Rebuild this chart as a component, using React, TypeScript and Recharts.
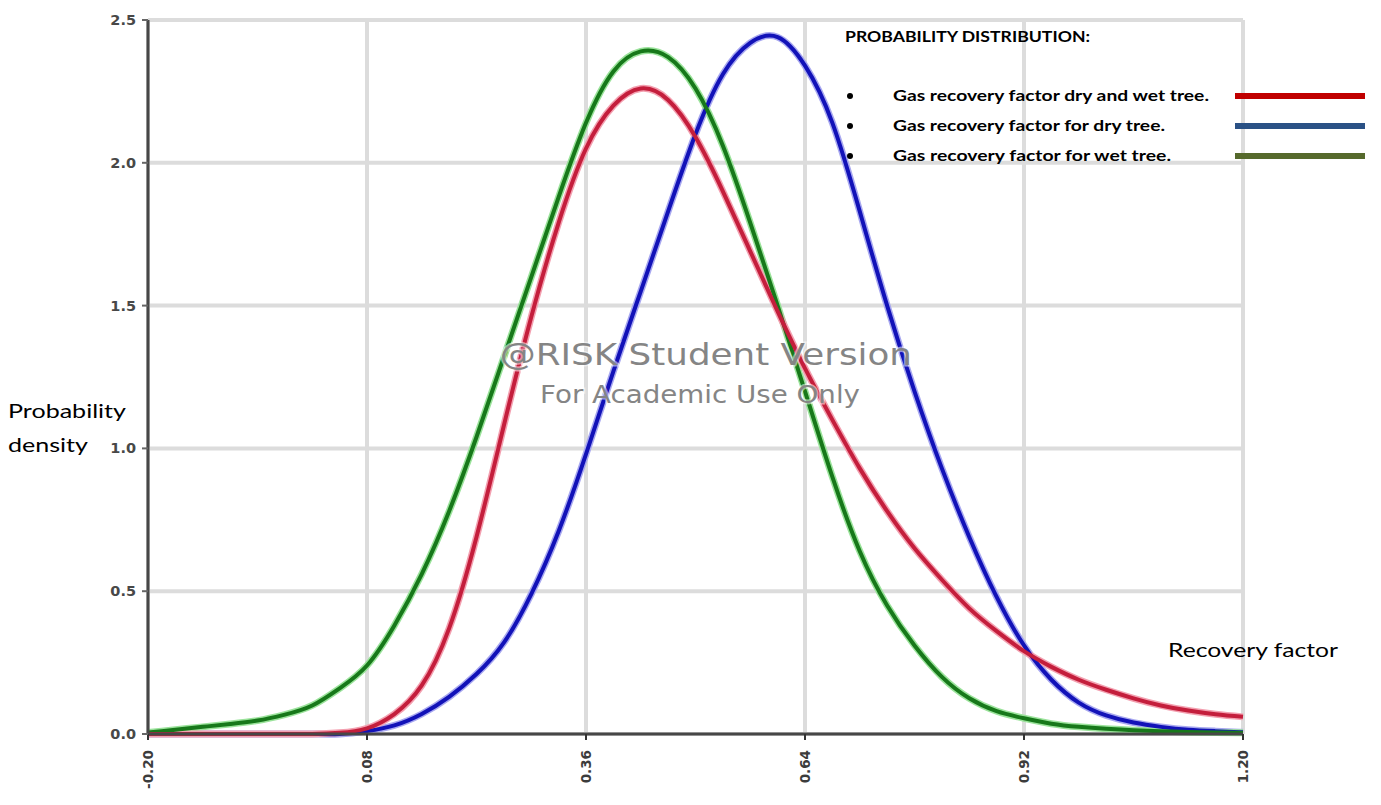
import { LineChart, Line, XAxis, YAxis, CartesianGrid } from 'recharts';

// recovery factor sample points (x axis)
const recoveryFactor = [
  -0.2, -0.165, -0.13, -0.095, -0.06, -0.025, 0.01, 0.045, 0.08, 0.115,
  0.15, 0.185, 0.22, 0.255, 0.29, 0.325, 0.36, 0.395, 0.43, 0.465,
  0.5, 0.535, 0.57, 0.605, 0.64, 0.675, 0.71, 0.745, 0.78, 0.815,
  0.85, 0.885, 0.92, 0.955, 0.99, 1.025, 1.06, 1.095, 1.13, 1.165, 1.2,
];

// gas recovery factor, dry and wet tree
const dryAndWetTree = [
  0, 0, 0, 0, 0, 0, 0, 0.004, 0.02, 0.07,
  0.17, 0.37, 0.69, 1.08, 1.46, 1.79, 2.05, 2.2, 2.26, 2.22,
  2.09, 1.9, 1.69, 1.48, 1.28, 1.1, 0.93, 0.78, 0.65, 0.54,
  0.44, 0.36, 0.29, 0.235, 0.19, 0.155, 0.125, 0.1, 0.082, 0.069, 0.06,
];

// gas recovery factor, dry tree
const dryTree = [
  0, 0, 0, 0, 0, 0, 0, 0, 0.01, 0.03,
  0.07, 0.13, 0.21, 0.32, 0.49, 0.71, 0.98, 1.27, 1.55, 1.83,
  2.1, 2.31, 2.42, 2.44, 2.34, 2.14, 1.83, 1.5, 1.2, 0.93,
  0.69, 0.48, 0.31, 0.19, 0.11, 0.065, 0.04, 0.025, 0.015, 0.01, 0.006,
];

// gas recovery factor, wet tree
const wetTree = [
  0.005, 0.015, 0.025, 0.035, 0.047, 0.068, 0.1, 0.16, 0.24, 0.38,
  0.56, 0.78, 1.04, 1.32, 1.6, 1.88, 2.14, 2.32, 2.39, 2.37,
  2.26, 2.06, 1.79, 1.5, 1.2, 0.9, 0.64, 0.45, 0.31, 0.2,
  0.125, 0.08, 0.055, 0.036, 0.025, 0.018, 0.013, 0.01, 0.007, 0.005, 0.004,
];

const xTicks = [-0.2, 0.08, 0.36, 0.64, 0.92, 1.2];
const yTicks = [0, 0.5, 1.0, 1.5, 2.0, 2.5];

const legendItems = [
  { label: 'Gas recovery factor dry and wet tree.', color: '#c00000', width: 316 },
  { label: 'Gas recovery factor for dry tree.', color: '#2a5185', width: 272 },
  { label: 'Gas recovery factor for wet tree.', color: '#56692c', width: 278 },
];

const rows = recoveryFactor.map((x, i) => ({
  x,
  dryAndWet: dryAndWetTree[i],
  dry: dryTree[i],
  wet: wetTree[i],
}));

const XTick = ({ x, y, payload }: any) => (
  <text
    transform={`rotate(-90 ${x + 5} ${y + 8})`}
    x={x + 5}
    y={y + 8}
    textAnchor="end"
    fontFamily="DejaVu Sans"
    fontSize={13.5}
    fontWeight="bold"
    fill="#3c3c3c"
  >
    {payload.value.toFixed(2)}
  </text>
);

const YTick = ({ x, y, payload }: any) => (
  <text
    x={x - 4}
    y={y + 5}
    textAnchor="end"
    fontFamily="DejaVu Sans"
    fontSize={14.5}
    fontWeight="bold"
    fill="#484848"
  >
    {payload.value.toFixed(1)}
  </text>
);

const series = [
  { key: 'dry', core: '#1212b8', halo: '#a8a8f0' },
  { key: 'wet', core: '#17781a', halo: '#9be39b' },
  { key: 'dryAndWet', core: '#c41e3c', halo: '#f3a0b0' },
];

export default function App() {
  return (
    <div style={{ position: 'absolute', left: 0, top: 0, width: 1381, height: 805, background: '#fff' }}>
      <LineChart
        width={1381}
        height={805}
        data={rows}
        margin={{ top: 20, right: 138, bottom: 0, left: 0 }}
      >
        <CartesianGrid stroke="#dcdcdc" strokeWidth={4} />
        <XAxis
          type="number"
          dataKey="x"
          domain={[-0.2, 1.2]}
          ticks={xTicks}
          height={71}
          tick={<XTick />}
          tickSize={6}
          axisLine={{ stroke: '#474747', strokeWidth: 3 }}
          tickLine={{ stroke: '#333', strokeWidth: 2 }}
        />
        <YAxis
          type="number"
          domain={[0, 2.5]}
          ticks={yTicks}
          width={148}
          tick={<YTick />}
          tickSize={6}
          axisLine={{ stroke: '#474747', strokeWidth: 3 }}
          tickLine={{ stroke: '#666', strokeWidth: 2 }}
        />
        {series.map((s) => (
          <Line
            key={`${s.key}-halo`}
            type="natural"
            dataKey={s.key}
            stroke={s.halo}
            strokeWidth={7}
            dot={false}
            activeDot={false}
            isAnimationActive={false}
          />
        ))}
        {series.map((s) => (
          <Line
            key={s.key}
            type="natural"
            dataKey={s.key}
            stroke={s.core}
            strokeWidth={4}
            dot={false}
            activeDot={false}
            isAnimationActive={false}
          />
        ))}
      </LineChart>

      <svg
        width={1381}
        height={805}
        style={{ position: 'absolute', left: 0, top: 0, pointerEvents: 'none' }}
      >
        {/* watermark */}
        <g fontFamily="DejaVu Sans" fill="#858585" stroke="#ffffff" strokeWidth={3} strokeOpacity={0.55} style={{ paintOrder: 'stroke' }}>
          <text x={500} y={365} fontSize={31} textLength={412} lengthAdjust="spacingAndGlyphs">
            @RISK Student Version
          </text>
          <text x={540} y={403} fontSize={24} textLength={320} lengthAdjust="spacingAndGlyphs">
            For Academic Use Only
          </text>
        </g>

        {/* axis titles */}
        <g fontFamily="Lato" fontSize={20} fill="#000">
          <text x={8} y={418} textLength={118} lengthAdjust="spacingAndGlyphs">Probability</text>
          <text x={8} y={452} textLength={80} lengthAdjust="spacingAndGlyphs">density</text>
          <text x={1168} y={657} textLength={170} lengthAdjust="spacingAndGlyphs">Recovery factor</text>
        </g>

        {/* legend */}
        <g fontFamily="Lato" fontWeight="bold" fill="#000">
          <text x={845} y={42} fontSize={15} textLength={245} lengthAdjust="spacingAndGlyphs">
            PROBABILITY DISTRIBUTION:
          </text>
          {legendItems.map((item, i) => {
            const cy = 96 + i * 30;
            return (
              <g key={item.label}>
                <circle cx={850} cy={cy} r={3} fill="#000" />
                <text x={893} y={cy + 5} fontSize={15} textLength={item.width} lengthAdjust="spacingAndGlyphs">
                  {item.label}
                </text>
                <line x1={1235} x2={1365} y1={cy} y2={cy} stroke={item.color} strokeWidth={6} />
              </g>
            );
          })}
        </g>
      </svg>
    </div>
  );
}
